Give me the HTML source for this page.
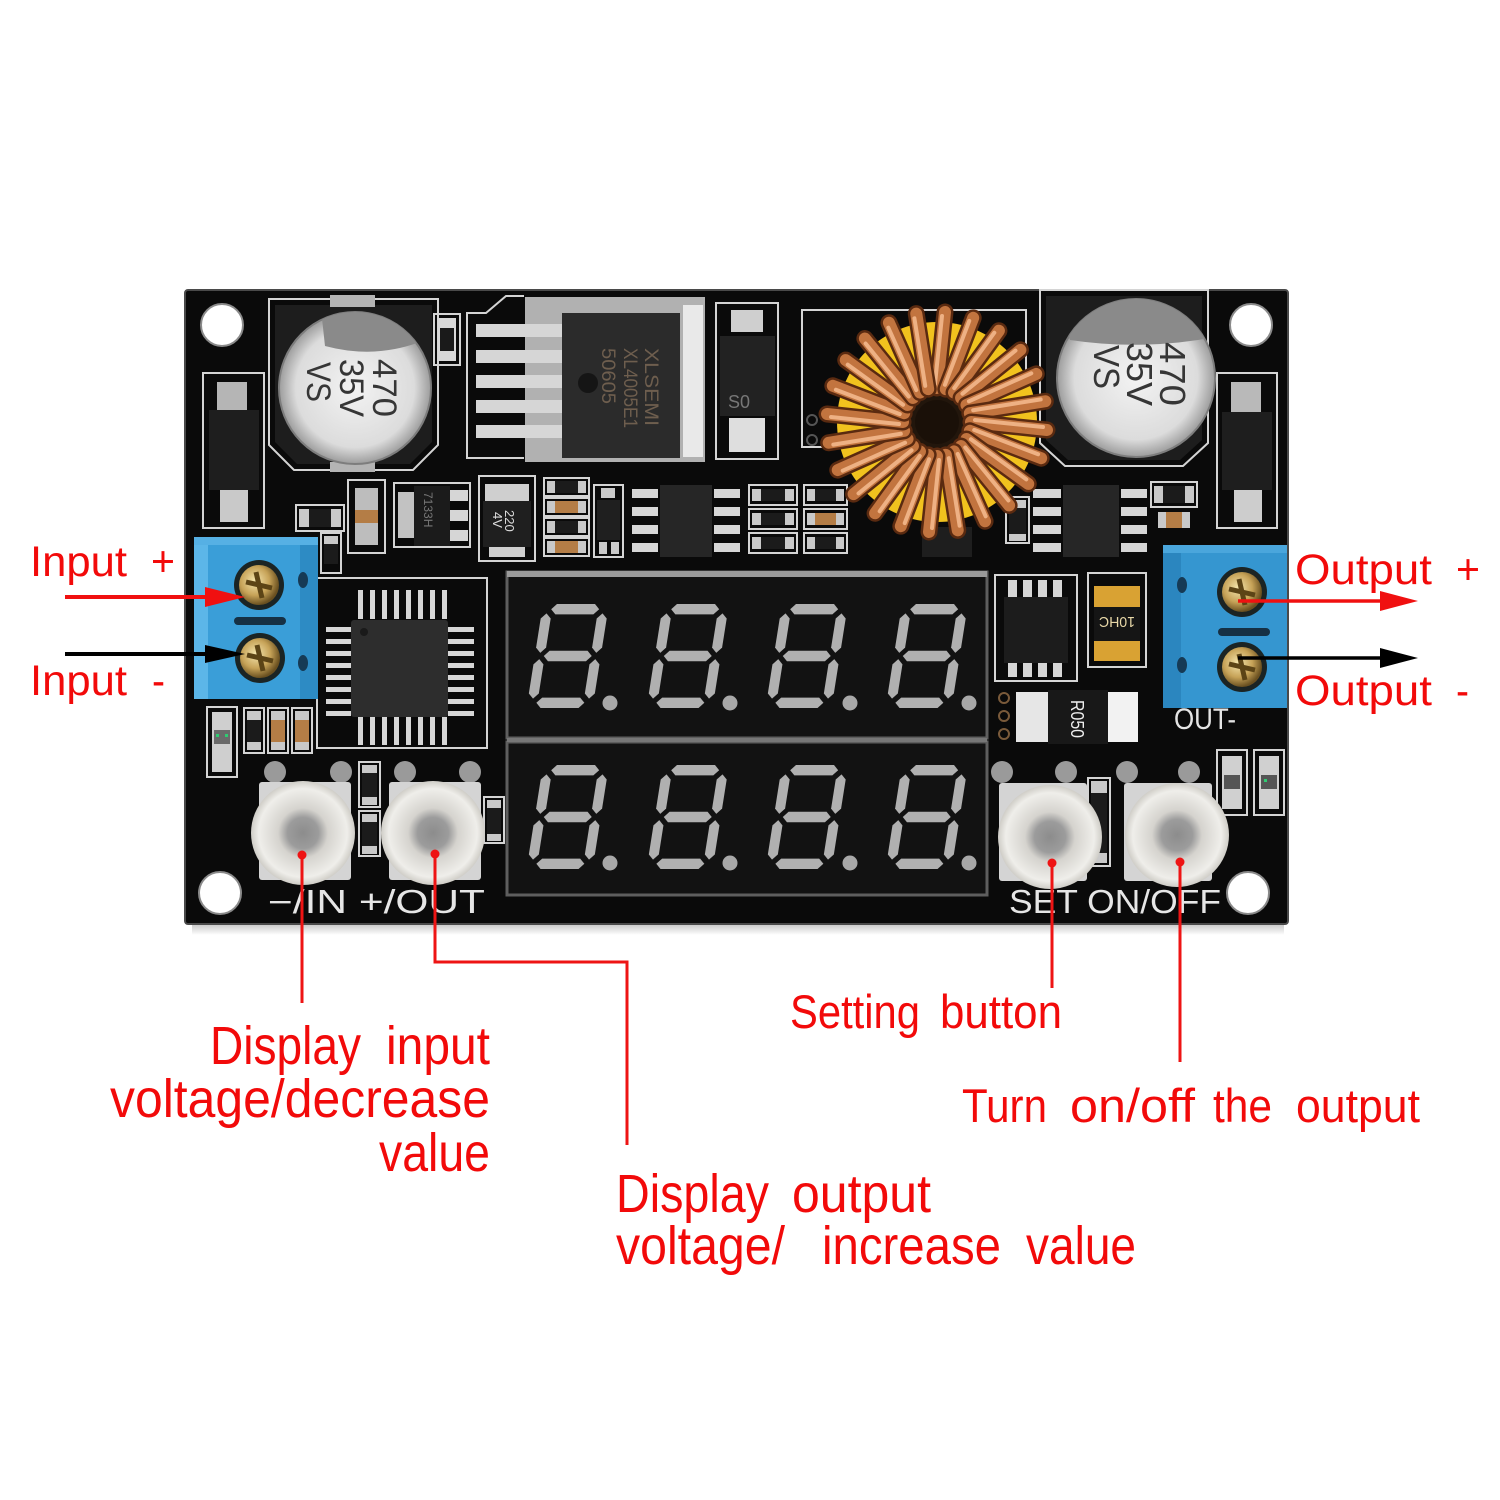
<!DOCTYPE html>
<html><head><meta charset="utf-8">
<style>
html,body{margin:0;padding:0;background:#fff;width:1500px;height:1500px;overflow:hidden}
svg{display:block}
text{font-family:"Liberation Sans",sans-serif}
.ss{fill:none;stroke:#d4d4d4;stroke-width:2}
.pin{fill:#d6d6d6}
.sv{fill:#c9c9c9}
.bk{fill:#1b1b1b}
.br{fill:#b47d46}
</style></head><body>
<svg width="1500" height="1500" viewBox="0 0 1500 1500" xmlns="http://www.w3.org/2000/svg">
<defs>
 <radialGradient id="capG" cx="50%" cy="50%" r="50%">
  <stop offset="0" stop-color="#f3f3f3"/>
  <stop offset="0.78" stop-color="#dcdcdc"/>
  <stop offset="1" stop-color="#9c9c9c"/>
 </radialGradient>
 <radialGradient id="btnG" cx="50%" cy="50%" r="50%">
  <stop offset="0" stop-color="#8c8c8c"/>
  <stop offset="0.3" stop-color="#9c9c9c"/>
  <stop offset="0.48" stop-color="#d5d3ce"/>
  <stop offset="0.85" stop-color="#efeeea"/>
  <stop offset="1" stop-color="#cfcdc7"/>
 </radialGradient>
 <radialGradient id="screwG" cx="40%" cy="40%" r="60%">
  <stop offset="0" stop-color="#f5e6ae"/>
  <stop offset="0.6" stop-color="#c6a257"/>
  <stop offset="1" stop-color="#6a5020"/>
 </radialGradient>
 <linearGradient id="shadowG" x1="0" y1="0" x2="0" y2="1">
  <stop offset="0" stop-color="#b8b8b8"/>
  <stop offset="1" stop-color="#ffffff"/>
 </linearGradient>
 <clipPath id="cl1"><circle cx="355" cy="388" r="76"/></clipPath>
 <clipPath id="cl2"><circle cx="1136" cy="378" r="79"/></clipPath>
 <g id="dig" fill="#b0b0b0">
  <polygon points="9,5 14,0 52,0 57,5 52,10 14,10"/>
  <polygon points="9,50 14,45 52,45 57,50 52,55 14,55"/>
  <polygon points="9,95 14,90 52,90 57,95 52,100 14,100"/>
  <polygon points="5,9 10,14 10,42 5,47 0,42 0,14"/>
  <polygon points="61,9 66,14 66,42 61,47 56,42 56,14"/>
  <polygon points="5,53 10,58 10,86 5,91 0,86 0,58"/>
  <polygon points="61,53 66,58 66,86 61,91 56,86 56,58"/>
 </g>
 <g id="loop">
  <line x1="0" y1="-34" x2="8" y2="-110" stroke="#5a2a10" stroke-width="17" stroke-linecap="round"/>
  <line x1="0" y1="-34" x2="8" y2="-110" stroke="#c2743f" stroke-width="12" stroke-linecap="round"/>
  <line x1="-2" y1="-38" x2="5" y2="-106" stroke="#eeb184" stroke-width="4" stroke-linecap="round"/>
 </g>
 <g id="screw">
  <circle r="25" fill="#1b2424"/>
  <circle r="20" fill="url(#screwG)"/>
  <line x1="-13" y1="-3" x2="13" y2="3" stroke="#5c4416" stroke-width="5"/>
  <line x1="-3" y1="-13" x2="3" y2="13" stroke="#5c4416" stroke-width="5"/>
 </g>
</defs>

<rect width="1500" height="1500" fill="#fff"/>
<rect x="192" y="921" width="1092" height="14" fill="url(#shadowG)"/>
<!-- board -->
<rect x="185" y="290" width="1103" height="634" rx="3" fill="#0a0a0a" stroke="#4a4a4a" stroke-width="2"/>

<!-- holes -->
<g fill="#fff" stroke="#8a8a8a" stroke-width="2">
 <circle cx="222" cy="325" r="21"/>
 <circle cx="1251" cy="325" r="21"/>
 <circle cx="220" cy="893" r="21"/>
 <circle cx="1248" cy="893" r="21"/>
</g>

<!-- left diode -->
<rect class="ss" x="203" y="373" width="61" height="155"/>
<rect x="217" y="382" width="30" height="28" fill="#b5b5b5"/>
<rect x="209" y="410" width="50" height="80" fill="#1e1e1e"/>
<rect x="220" y="490" width="28" height="32" fill="#c9c9c9"/>

<!-- right diode -->
<rect class="ss" x="1217" y="373" width="60" height="155"/>
<rect x="1231" y="382" width="30" height="30" fill="#b9b9b9"/>
<rect x="1222" y="412" width="50" height="78" fill="#1e1e1e"/>
<rect x="1234" y="490" width="28" height="32" fill="#cdcdcd"/>

<!-- left cap -->
<path class="ss" d="M269,299 H438 V445 L413,470 H294 L269,445 Z"/>
<path d="M275,305 H432 V442 L410,464 H297 L275,442 Z" fill="#1d1d1d"/>
<rect x="330" y="295" width="45" height="12" fill="#b4b4b4"/>
<rect x="330" y="462" width="45" height="10" fill="#b4b4b4"/>
<circle cx="355" cy="388" r="76" fill="url(#capG)" stroke="#7d7d7d" stroke-width="2"/>
<path d="M320,300 L440,300 L440,333 Q385,362 325,346 Z" fill="#8a8a8a" clip-path="url(#cl1)"/>
<g fill="#363636" font-size="34">
 <text transform="translate(373,359) rotate(90)" textLength="58" lengthAdjust="spacingAndGlyphs">470</text>
 <text transform="translate(340,359) rotate(90)" textLength="58" lengthAdjust="spacingAndGlyphs">35V</text>
 <text transform="translate(307,362) rotate(90)" textLength="40" lengthAdjust="spacingAndGlyphs">VS</text>
</g>

<!-- small resistor near cap -->
<rect class="ss" x="434" y="314" width="26" height="51"/>
<rect x="438" y="318" width="18" height="43" fill="#d8d8d8"/>
<rect x="440" y="328" width="14" height="23" fill="#1a1a1a"/>

<!-- XL4005 -->
<path class="ss" d="M524,296 H506 L486,313 H467 V458 H524"/>
<rect x="525" y="297" width="180" height="165" fill="#b1b1b1"/>
<rect x="683" y="305" width="20" height="152" fill="#e9e9e9"/>
<rect x="562" y="313" width="118" height="145" fill="#2b2b2b"/>
<g class="pin">
 <rect x="476" y="324" width="86" height="13"/>
 <rect x="476" y="350" width="86" height="13"/>
 <rect x="476" y="375" width="86" height="13"/>
 <rect x="476" y="400" width="86" height="13"/>
 <rect x="476" y="425" width="86" height="13"/>
</g>
<circle cx="588" cy="383" r="10" fill="#151515"/>
<g fill="#6e5e4e" font-size="19">
 <text transform="translate(645,348) rotate(90)" textLength="78" lengthAdjust="spacingAndGlyphs">XLSEMI</text>
 <text transform="translate(624,348) rotate(90)" textLength="80" lengthAdjust="spacingAndGlyphs">XL4005E1</text>
 <text transform="translate(602,348) rotate(90)" textLength="56" lengthAdjust="spacingAndGlyphs">50605</text>
</g>

<!-- SS34 -->
<rect class="ss" x="716" y="303" width="62" height="156"/>
<rect x="731" y="310" width="32" height="22" fill="#cfcfcf"/>
<rect x="720" y="336" width="55" height="80" fill="#222"/>
<text x="728" y="408" fill="#777" font-size="18">S0</text>
<rect x="729" y="418" width="36" height="34" fill="#dedede"/>

<!-- inductor silkscreen box -->
<rect class="ss" x="802" y="310" width="224" height="137"/>
<circle cx="812" cy="420" r="5" fill="none" stroke="#555" stroke-width="2"/>
<circle cx="812" cy="440" r="5" fill="none" stroke="#555" stroke-width="2"/>

<!-- right cap -->
<path class="ss" d="M1040,290 H1208 V443 L1183,466 H1065 L1040,443 Z"/>
<path d="M1046,296 H1202 V440 L1180,460 H1068 L1046,440 Z" fill="#1d1d1d"/>
<circle cx="1136" cy="378" r="79" fill="url(#capG)" stroke="#7d7d7d" stroke-width="2"/>
<path d="M1050,290 L1230,290 L1230,334 Q1150,352 1070,340 Z" fill="#8a8a8a" clip-path="url(#cl2)"/>
<g fill="#363636" font-size="36">
 <text transform="translate(1160,342) rotate(90)" textLength="64" lengthAdjust="spacingAndGlyphs">470</text>
 <text transform="translate(1127,342) rotate(90)" textLength="64" lengthAdjust="spacingAndGlyphs">35V</text>
 <text transform="translate(1094,345) rotate(90)" textLength="44" lengthAdjust="spacingAndGlyphs">VS</text>
</g>

<!-- row 2 components -->
<rect class="ss" x="296" y="505" width="48" height="26"/>
<rect class="sv" x="299" y="509" width="10" height="18"/><rect class="sv" x="331" y="509" width="10" height="18"/>
<rect class="bk" x="309" y="509" width="22" height="18"/>
<rect class="ss" x="321" y="533" width="20" height="40"/>
<rect class="sv" x="324" y="536" width="14" height="8"/><rect class="bk" x="324" y="544" width="14" height="20"/>

<rect class="ss" x="348" y="480" width="37" height="73"/>
<rect x="355" y="488" width="23" height="22" fill="#bdbdbd"/>
<rect class="br" x="355" y="510" width="23" height="13"/>
<rect x="355" y="523" width="23" height="22" fill="#bdbdbd"/>

<rect class="ss" x="394" y="483" width="76" height="64"/>
<rect x="398" y="492" width="16" height="46" fill="#c2c2c2"/>
<rect class="bk" x="414" y="486" width="36" height="60"/>
<rect class="pin" x="450" y="490" width="18" height="11"/>
<rect class="pin" x="450" y="510" width="18" height="11"/>
<rect class="pin" x="450" y="530" width="18" height="11"/>
<text transform="translate(424,492) rotate(90)" fill="#777" font-size="12">7133H</text>

<rect class="ss" x="479" y="476" width="56" height="85"/>
<rect x="485" y="484" width="44" height="17" fill="#cfcfcf"/>
<rect x="483" y="501" width="48" height="46" fill="#1f1f1f"/>
<text transform="translate(505,510) rotate(90)" fill="#ddd" font-size="13">220</text>
<text transform="translate(493,512) rotate(90)" fill="#ddd" font-size="13">4V</text>
<rect x="489" y="547" width="36" height="10" fill="#cfcfcf"/>

<g>
 <rect class="ss" x="544" y="478" width="45" height="18"/><rect class="sv" x="547" y="481" width="8" height="12"/><rect class="sv" x="578" y="481" width="8" height="12"/><rect class="bk" x="555" y="481" width="23" height="12"/>
 <rect class="ss" x="544" y="498" width="45" height="18"/><rect class="sv" x="547" y="501" width="8" height="12"/><rect class="sv" x="578" y="501" width="8" height="12"/><rect class="br" x="555" y="501" width="23" height="12"/>
 <rect class="ss" x="544" y="518" width="45" height="18"/><rect class="sv" x="547" y="521" width="8" height="12"/><rect class="sv" x="578" y="521" width="8" height="12"/><rect class="bk" x="555" y="521" width="23" height="12"/>
 <rect class="ss" x="544" y="538" width="45" height="18"/><rect class="sv" x="547" y="541" width="8" height="12"/><rect class="sv" x="578" y="541" width="8" height="12"/><rect class="br" x="555" y="541" width="23" height="12"/>
</g>

<rect class="ss" x="594" y="485" width="29" height="72"/>
<rect class="sv" x="601" y="488" width="14" height="10"/>
<rect x="597" y="500" width="23" height="40" fill="#1f1f1f"/>
<rect class="sv" x="599" y="542" width="8" height="12"/><rect class="sv" x="611" y="542" width="8" height="12"/>

<rect x="660" y="485" width="52" height="72" fill="#262626"/>
<g class="pin">
 <rect x="632" y="489" width="26" height="9"/><rect x="632" y="507" width="26" height="9"/><rect x="632" y="525" width="26" height="9"/><rect x="632" y="543" width="26" height="9"/>
 <rect x="714" y="489" width="26" height="9"/><rect x="714" y="507" width="26" height="9"/><rect x="714" y="525" width="26" height="9"/><rect x="714" y="543" width="26" height="9"/>
</g>

<g>
 <rect class="ss" x="749" y="485" width="48" height="20"/><rect class="sv" x="752" y="489" width="9" height="12"/><rect class="sv" x="785" y="489" width="9" height="12"/><rect class="bk" x="761" y="489" width="24" height="12"/>
 <rect class="ss" x="749" y="509" width="48" height="20"/><rect class="sv" x="752" y="513" width="9" height="12"/><rect class="sv" x="785" y="513" width="9" height="12"/><rect class="bk" x="761" y="513" width="24" height="12"/>
 <rect class="ss" x="749" y="533" width="48" height="20"/><rect class="sv" x="752" y="537" width="9" height="12"/><rect class="sv" x="785" y="537" width="9" height="12"/><rect class="bk" x="761" y="537" width="24" height="12"/>
 <rect class="ss" x="804" y="485" width="43" height="20"/><rect class="sv" x="807" y="489" width="8" height="12"/><rect class="sv" x="836" y="489" width="8" height="12"/><rect class="bk" x="815" y="489" width="21" height="12"/>
 <rect class="ss" x="804" y="509" width="43" height="20"/><rect class="sv" x="807" y="513" width="8" height="12"/><rect class="sv" x="836" y="513" width="8" height="12"/><rect class="br" x="815" y="513" width="21" height="12"/>
 <rect class="ss" x="804" y="533" width="43" height="20"/><rect class="sv" x="807" y="537" width="8" height="12"/><rect class="sv" x="836" y="537" width="8" height="12"/><rect class="bk" x="815" y="537" width="21" height="12"/>
</g>

<rect x="922" y="527" width="50" height="30" fill="#1e1e1e"/>
<rect class="ss" x="1006" y="497" width="23" height="46"/>
<rect class="sv" x="1009" y="500" width="17" height="8"/><rect class="bk" x="1009" y="508" width="17" height="26"/><rect class="sv" x="1009" y="534" width="17" height="7"/>

<rect x="1063" y="485" width="56" height="72" fill="#262626"/>
<g class="pin">
 <rect x="1033" y="489" width="28" height="9"/><rect x="1033" y="507" width="28" height="9"/><rect x="1033" y="525" width="28" height="9"/><rect x="1033" y="543" width="28" height="9"/>
 <rect x="1121" y="489" width="26" height="9"/><rect x="1121" y="507" width="26" height="9"/><rect x="1121" y="525" width="26" height="9"/><rect x="1121" y="543" width="26" height="9"/>
</g>
<rect class="ss" x="1151" y="482" width="46" height="25"/>
<rect class="sv" x="1154" y="486" width="9" height="17"/><rect class="sv" x="1185" y="486" width="9" height="17"/><rect class="bk" x="1163" y="486" width="22" height="17"/>
<rect class="sv" x="1158" y="512" width="8" height="16"/><rect class="br" x="1166" y="512" width="16" height="16"/><rect class="sv" x="1182" y="512" width="8" height="16"/>

<!-- inductor -->
<circle cx="937" cy="422" r="100" fill="#f1c21e"/>
<circle cx="937" cy="422" r="38" fill="#22160c"/>
<g transform="translate(937,422)">
 <use href="#loop" transform="rotate(0)"/><use href="#loop" transform="rotate(15)"/><use href="#loop" transform="rotate(30)"/><use href="#loop" transform="rotate(45)"/>
 <use href="#loop" transform="rotate(60)"/><use href="#loop" transform="rotate(75)"/><use href="#loop" transform="rotate(90)"/><use href="#loop" transform="rotate(105)"/>
 <use href="#loop" transform="rotate(120)"/><use href="#loop" transform="rotate(135)"/><use href="#loop" transform="rotate(150)"/><use href="#loop" transform="rotate(165)"/>
 <use href="#loop" transform="rotate(180)"/><use href="#loop" transform="rotate(195)"/><use href="#loop" transform="rotate(210)"/><use href="#loop" transform="rotate(225)"/>
 <use href="#loop" transform="rotate(240)"/><use href="#loop" transform="rotate(255)"/><use href="#loop" transform="rotate(270)"/><use href="#loop" transform="rotate(285)"/>
 <use href="#loop" transform="rotate(300)"/><use href="#loop" transform="rotate(315)"/><use href="#loop" transform="rotate(330)"/><use href="#loop" transform="rotate(345)"/>
</g>
<circle cx="937" cy="422" r="22" fill="#1a1008"/>

<!-- MCU -->
<rect class="ss" x="317" y="578" width="170" height="170"/>
<g class="pin">
 <rect x="358" y="590" width="5" height="29"/><rect x="370" y="590" width="5" height="29"/><rect x="382" y="590" width="5" height="29"/><rect x="394" y="590" width="5" height="29"/>
 <rect x="406" y="590" width="5" height="29"/><rect x="418" y="590" width="5" height="29"/><rect x="430" y="590" width="5" height="29"/><rect x="442" y="590" width="5" height="29"/>
 <rect x="358" y="717" width="5" height="28"/><rect x="370" y="717" width="5" height="28"/><rect x="382" y="717" width="5" height="28"/><rect x="394" y="717" width="5" height="28"/>
 <rect x="406" y="717" width="5" height="28"/><rect x="418" y="717" width="5" height="28"/><rect x="430" y="717" width="5" height="28"/><rect x="442" y="717" width="5" height="28"/>
 <rect x="326" y="627" width="25" height="5"/><rect x="326" y="639" width="25" height="5"/><rect x="326" y="651" width="25" height="5"/><rect x="326" y="663" width="25" height="5"/>
 <rect x="326" y="675" width="25" height="5"/><rect x="326" y="687" width="25" height="5"/><rect x="326" y="699" width="25" height="5"/><rect x="326" y="711" width="25" height="5"/>
 <rect x="448" y="627" width="26" height="5"/><rect x="448" y="639" width="26" height="5"/><rect x="448" y="651" width="26" height="5"/><rect x="448" y="663" width="26" height="5"/>
 <rect x="448" y="675" width="26" height="5"/><rect x="448" y="687" width="26" height="5"/><rect x="448" y="699" width="26" height="5"/><rect x="448" y="711" width="26" height="5"/>
</g>
<rect x="351" y="620" width="97" height="97" rx="3" fill="#2d2d2d"/>
<circle cx="364" cy="632" r="4" fill="#1a1a1a"/>

<!-- small parts below left terminal -->
<rect class="ss" x="207" y="707" width="30" height="70"/>
<rect x="212" y="712" width="20" height="60" fill="#cfcfcf"/>
<rect x="214" y="730" width="16" height="14" fill="#6a6a6a"/>
<rect x="216" y="734" width="3" height="3" fill="#2ecc71"/><rect x="225" y="734" width="3" height="3" fill="#2ecc71"/>
<g>
 <rect class="ss" x="244" y="708" width="20" height="45"/><rect class="sv" x="247" y="711" width="14" height="9"/><rect class="bk" x="247" y="720" width="14" height="22"/><rect class="sv" x="247" y="742" width="14" height="8"/>
 <rect class="ss" x="268" y="708" width="20" height="45"/><rect class="sv" x="271" y="711" width="14" height="9"/><rect class="br" x="271" y="720" width="14" height="22"/><rect class="sv" x="271" y="742" width="14" height="8"/>
 <rect class="ss" x="292" y="708" width="20" height="45"/><rect class="sv" x="295" y="711" width="14" height="9"/><rect class="br" x="295" y="720" width="14" height="22"/><rect class="sv" x="295" y="742" width="14" height="8"/>
 <rect class="ss" x="359" y="762" width="21" height="45"/><rect class="sv" x="362" y="765" width="15" height="8"/><rect class="bk" x="362" y="773" width="15" height="24"/><rect class="sv" x="362" y="797" width="15" height="8"/>
 <rect class="ss" x="359" y="811" width="21" height="45"/><rect class="sv" x="362" y="814" width="15" height="8"/><rect class="bk" x="362" y="822" width="15" height="24"/><rect class="sv" x="362" y="846" width="15" height="8"/>
 <rect class="ss" x="484" y="797" width="20" height="46"/><rect class="sv" x="487" y="800" width="14" height="8"/><rect class="bk" x="487" y="808" width="14" height="26"/><rect class="sv" x="487" y="834" width="14" height="7"/>
</g>

<!-- displays -->
<rect x="507" y="572" width="480" height="166" fill="#121212" stroke="#5e5e5e" stroke-width="3"/>
<rect x="507" y="571" width="480" height="6" fill="#9a9a9a"/>
<rect x="507" y="742" width="480" height="153" fill="#121212" stroke="#5e5e5e" stroke-width="3"/>
<rect x="507" y="738" width="480" height="4" fill="#777"/>
<use href="#dig" transform="translate(543,604) skewX(-9) scale(1,1.04)"/>
<use href="#dig" transform="translate(663,604) skewX(-9) scale(1,1.04)"/>
<use href="#dig" transform="translate(782,604) skewX(-9) scale(1,1.04)"/>
<use href="#dig" transform="translate(902,604) skewX(-9) scale(1,1.04)"/>
<use href="#dig" transform="translate(543,765) skewX(-9) scale(1,1.04)"/>
<use href="#dig" transform="translate(663,765) skewX(-9) scale(1,1.04)"/>
<use href="#dig" transform="translate(782,765) skewX(-9) scale(1,1.04)"/>
<use href="#dig" transform="translate(902,765) skewX(-9) scale(1,1.04)"/>
<g fill="#a8a8a8">
 <circle cx="610" cy="703" r="7.5"/><circle cx="730" cy="703" r="7.5"/><circle cx="850" cy="703" r="7.5"/><circle cx="969" cy="703" r="7.5"/>
 <circle cx="610" cy="863" r="7.5"/><circle cx="730" cy="863" r="7.5"/><circle cx="850" cy="863" r="7.5"/><circle cx="969" cy="863" r="7.5"/>
</g>

<!-- MOSFET -->
<rect class="ss" x="995" y="575" width="82" height="106"/>
<g class="pin">
 <rect x="1008" y="580" width="9" height="17"/><rect x="1023" y="580" width="9" height="17"/><rect x="1038" y="580" width="9" height="17"/><rect x="1053" y="580" width="9" height="17"/>
 <rect x="1008" y="663" width="9" height="14"/><rect x="1023" y="663" width="9" height="14"/><rect x="1038" y="663" width="9" height="14"/><rect x="1053" y="663" width="9" height="14"/>
</g>
<rect x="1004" y="597" width="64" height="66" fill="#1c1c1c"/>

<!-- fuse -->
<rect class="ss" x="1088" y="573" width="58" height="94"/>
<rect x="1094" y="586" width="46" height="22" fill="#d9a233"/>
<rect x="1094" y="607" width="46" height="34" fill="#151515"/>
<rect x="1094" y="641" width="46" height="20" fill="#d9a233"/>
<text transform="translate(1135,617) rotate(180)" fill="#e8d8a8" font-size="15" textLength="36" lengthAdjust="spacingAndGlyphs">10HC</text>

<!-- R050 -->
<circle cx="1004" cy="698" r="5" fill="none" stroke="#7a5a3a" stroke-width="2"/>
<circle cx="1004" cy="716" r="5" fill="none" stroke="#7a5a3a" stroke-width="2"/>
<circle cx="1004" cy="734" r="5" fill="none" stroke="#7a5a3a" stroke-width="2"/>
<rect x="1016" y="692" width="32" height="50" fill="#e6e6e6"/>
<rect x="1108" y="692" width="30" height="50" fill="#f2f2f2"/>
<rect x="1048" y="690" width="60" height="54" fill="#181818"/>
<text transform="translate(1071,700) rotate(90)" fill="#eee" font-size="18" textLength="38" lengthAdjust="spacingAndGlyphs">R050</text>

<!-- OUT- silkscreen -->
<text x="1174" y="729" fill="#e4e4e4" font-size="30" textLength="62" lengthAdjust="spacingAndGlyphs">OUT-</text>

<!-- right LEDs / resistor -->
<rect class="ss" x="1217" y="750" width="30" height="65"/>
<rect x="1222" y="756" width="20" height="53" fill="#d0d0d0"/>
<rect x="1224" y="775" width="16" height="14" fill="#555"/>
<rect class="ss" x="1254" y="750" width="30" height="65"/>
<rect x="1259" y="756" width="20" height="53" fill="#d0d0d0"/>
<rect x="1261" y="775" width="16" height="14" fill="#555"/>
<rect x="1264" y="779" width="3" height="3" fill="#2ecc71"/>
<rect class="ss" x="1088" y="778" width="22" height="88"/>
<rect class="sv" x="1091" y="781" width="16" height="12"/><rect class="bk" x="1091" y="793" width="16" height="60"/><rect class="sv" x="1091" y="853" width="16" height="10"/>

<!-- terminal left -->
<rect x="194" y="537" width="124" height="162" fill="#3a9ed8"/>
<rect x="194" y="537" width="14" height="162" fill="#5cb6e8"/>
<rect x="300" y="537" width="18" height="162" fill="#2d8bc4"/>
<rect x="194" y="537" width="124" height="8" fill="#56b0e4"/>
<use href="#screw" transform="translate(259,585)"/>
<use href="#screw" transform="translate(260,658)"/>
<line x1="238" y1="621" x2="282" y2="621" stroke="#163044" stroke-width="8" stroke-linecap="round"/>
<ellipse cx="303" cy="580" rx="5" ry="8" fill="#163a55"/>
<ellipse cx="303" cy="663" rx="5" ry="8" fill="#163a55"/>

<!-- terminal right -->
<rect x="1163" y="545" width="124" height="163" fill="#3596d0"/>
<rect x="1163" y="545" width="18" height="163" fill="#2b86bf"/>
<rect x="1163" y="545" width="124" height="8" fill="#4aa6dc"/>
<use href="#screw" transform="translate(1242,592)"/>
<use href="#screw" transform="translate(1242,667)"/>
<line x1="1222" y1="632" x2="1266" y2="632" stroke="#163044" stroke-width="8" stroke-linecap="round"/>
<ellipse cx="1182" cy="585" rx="5" ry="8" fill="#163a55"/>
<ellipse cx="1182" cy="665" rx="5" ry="8" fill="#163a55"/>

<!-- buttons -->
<g>
 <circle cx="275" cy="772" r="11" fill="#9a9a9a"/><circle cx="341" cy="772" r="11" fill="#9a9a9a"/>
 <rect x="259" y="782" width="92" height="98" rx="3" fill="#d4d4d4"/>
 <circle cx="303" cy="833" r="52" fill="url(#btnG)"/>
 <circle cx="405" cy="772" r="11" fill="#9a9a9a"/><circle cx="470" cy="772" r="11" fill="#9a9a9a"/>
 <rect x="389" y="782" width="92" height="98" rx="3" fill="#d4d4d4"/>
 <circle cx="433" cy="833" r="52" fill="url(#btnG)"/>
 <circle cx="1002" cy="772" r="11" fill="#9a9a9a"/><circle cx="1066" cy="772" r="11" fill="#9a9a9a"/>
 <rect x="999" y="783" width="88" height="98" rx="3" fill="#d4d4d4"/>
 <circle cx="1050" cy="837" r="52" fill="url(#btnG)"/>
 <circle cx="1127" cy="772" r="11" fill="#9a9a9a"/><circle cx="1189" cy="772" r="11" fill="#9a9a9a"/>
 <rect x="1124" y="783" width="88" height="98" rx="3" fill="#d4d4d4"/>
 <circle cx="1177" cy="835" r="52" fill="url(#btnG)"/>
</g>

<!-- silkscreen labels -->
<text x="268" y="913" fill="#e6e6e6" font-size="33" textLength="217" lengthAdjust="spacingAndGlyphs">−/IN +/OUT</text>
<text x="1009" y="913" fill="#e6e6e6" font-size="33" textLength="212" lengthAdjust="spacingAndGlyphs">SET ON/OFF</text>

<!-- annotation arrows -->
<line x1="65" y1="597" x2="210" y2="597" stroke="#f01010" stroke-width="4"/>
<polygon points="205,587 245,597 205,607" fill="#f01010"/>
<line x1="65" y1="654" x2="210" y2="654" stroke="#000" stroke-width="4"/>
<polygon points="205,645 245,654 205,663" fill="#000"/>
<line x1="1238" y1="601" x2="1385" y2="601" stroke="#f01010" stroke-width="3.5"/>
<polygon points="1380,591 1418,601 1380,611" fill="#f01010"/>
<line x1="1238" y1="658" x2="1385" y2="658" stroke="#000" stroke-width="3.5"/>
<polygon points="1380,648 1418,658 1380,668" fill="#000"/>

<!-- leader lines -->
<g stroke="#ee1414" stroke-width="3" fill="none">
 <polyline points="302,855 302,1003"/>
 <polyline points="435,854 435,962 627,962 627,1145"/>
 <polyline points="1052,863 1052,988"/>
 <polyline points="1180,862 1180,1062"/>
</g>
<g fill="#ee1414">
 <circle cx="302" cy="855" r="4.5"/><circle cx="435" cy="854" r="4.5"/>
 <circle cx="1052" cy="863" r="4.5"/><circle cx="1180" cy="862" r="4.5"/>
</g>

<!-- annotation text -->
<g fill="#f20a0a" font-size="43">
 <text x="30" y="576" textLength="97" lengthAdjust="spacingAndGlyphs">Input</text>
 <text x="151" y="576" textLength="24" lengthAdjust="spacingAndGlyphs">+</text>
 <text x="30" y="695" textLength="97" lengthAdjust="spacingAndGlyphs">Input</text>
 <text x="152" y="695" textLength="13" lengthAdjust="spacingAndGlyphs">-</text>
 <text x="1295" y="584" textLength="137" lengthAdjust="spacingAndGlyphs">Output</text>
 <text x="1456" y="584" textLength="24" lengthAdjust="spacingAndGlyphs">+</text>
 <text x="1295" y="705" textLength="137" lengthAdjust="spacingAndGlyphs">Output</text>
 <text x="1456" y="705" textLength="13" lengthAdjust="spacingAndGlyphs">-</text>
</g>
<g fill="#f20a0a" font-size="54">
 <text x="210" y="1064" textLength="151" lengthAdjust="spacingAndGlyphs">Display</text>
 <text x="386" y="1064" textLength="104" lengthAdjust="spacingAndGlyphs">input</text>
 <text x="110" y="1117" textLength="380" lengthAdjust="spacingAndGlyphs">voltage/decrease</text>
 <text x="379" y="1171" textLength="111" lengthAdjust="spacingAndGlyphs">value</text>
 <text x="616" y="1212" textLength="153" lengthAdjust="spacingAndGlyphs">Display</text>
 <text x="792" y="1212" textLength="139" lengthAdjust="spacingAndGlyphs">output</text>
 <text x="616" y="1264" textLength="169" lengthAdjust="spacingAndGlyphs">voltage/</text>
 <text x="822" y="1264" textLength="179" lengthAdjust="spacingAndGlyphs">increase</text>
 <text x="1026" y="1264" textLength="110" lengthAdjust="spacingAndGlyphs">value</text>
</g>
<g fill="#f20a0a" font-size="47">
 <text x="790" y="1028" textLength="130" lengthAdjust="spacingAndGlyphs">Setting</text>
 <text x="940" y="1028" textLength="122" lengthAdjust="spacingAndGlyphs">button</text>
 <text x="962" y="1122" textLength="85" lengthAdjust="spacingAndGlyphs">Turn</text>
 <text x="1070" y="1122" textLength="125" lengthAdjust="spacingAndGlyphs">on/off</text>
 <text x="1213" y="1122" textLength="59" lengthAdjust="spacingAndGlyphs">the</text>
 <text x="1296" y="1122" textLength="124" lengthAdjust="spacingAndGlyphs">output</text>
</g>
</svg>
</body></html>
